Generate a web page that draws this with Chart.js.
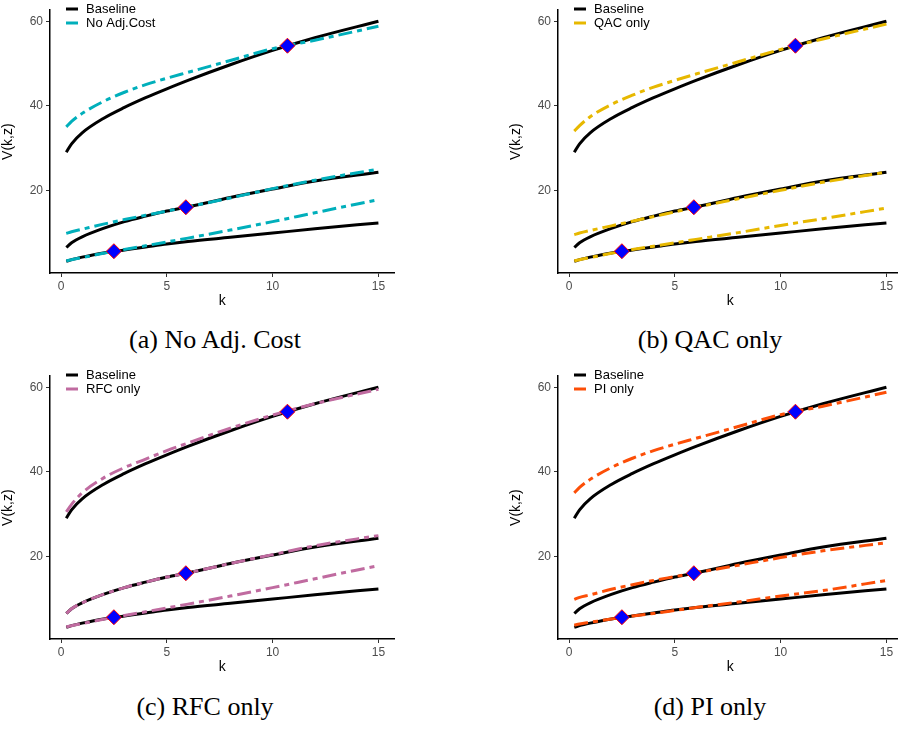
<!DOCTYPE html>
<html><head><meta charset="utf-8">
<script src="https://cdn.jsdelivr.net/npm/chart.js@4"></script>
<style>
body{margin:0;background:#fff;width:898px;height:729px;position:relative;overflow:hidden}
.p{position:absolute;width:403px;height:310px}
.cap{position:absolute;font-family:"Liberation Serif",serif;font-size:26px;color:#000;text-align:center;width:400px}
</style></head><body>
<div class="p" style="left:0;top:0"><canvas id="c0"></canvas></div>
<div class="p" style="left:508px;top:0"><canvas id="c1"></canvas></div>
<div class="p" style="left:0;top:366px"><canvas id="c2"></canvas></div>
<div class="p" style="left:508px;top:366px"><canvas id="c3"></canvas></div>
<div class="cap" style="left:15px;top:325px">(a) No Adj. Cost</div>
<div class="cap" style="left:510px;top:325px">(b) QAC only</div>
<div class="cap" style="left:5px;top:692px">(c) RFC only</div>
<div class="cap" style="left:510px;top:692px">(d) PI only</div>
<script>
const k = [0.25,0.5,1,2,3,4,5,6,8,10,12,15];
const baseTop = [29,31,33.6,37,39.6,41.9,44.0,46.0,49.7,53.1,56.1,60];
const baseMid = [6.5,7.6,9,11,12.6,13.9,15.1,16.1,18.3,20.3,22.2,24.3];
const baseLow = [3.2,3.6,4.2,5.2,5.9,6.6,7.3,7.9,8.9,9.9,10.9,12.3];
const noAdjTop = [35,36.3,38.2,41,43.2,45,46.5,47.9,50.7,53.5,55.5,58.8];
const noAdjMid = [9.8,10.2,10.8,12.0,13.1,14.1,15.1,16.1,18.2,20.4,22.4,25];
const noAdjLow = [3.3,3.6,4.1,5.1,6.0,6.9,7.8,8.7,10.6,12.6,14.7,17.8];
const qacTop = [34,35.3,37.4,40.3,42.5,44.4,46,47.5,50.4,53.3,55.8,59.3];
const qacMid = [9.5,9.9,10.5,11.6,12.7,13.8,14.9,16,18,20,21.9,24.3];
const qacLow = [3.3,3.6,4.1,5.1,6.0,6.8,7.6,8.4,10,11.7,13.3,15.8];
const rfcTop = [30.5,32.3,35,38.5,41,43,45,46.8,50.3,53.4,56.1,59.5];
const rfcMid = [6.5,7.6,9,11,12.6,13.9,15.1,16.1,18.3,20.4,22.5,24.9];
const rfcLow = [3.3,3.6,4.1,5.1,6.0,6.9,7.8,8.7,10.6,12.6,14.7,17.8];
const piTop = [35,36.3,38.2,41,43.2,45,46.5,47.9,50.7,53.5,55.5,58.8];
const piMid = [9.8,10.3,10.9,12.2,13.3,14.3,15.2,16.1,17.9,19.7,21.3,23.2];
const piLow = [3.7,4.0,4.4,5.2,5.9,6.5,7.2,7.9,9.2,10.6,11.9,14.3];
const steadyK = [2.5,5.9,10.7];
const steadyV = [5.6,16,54.2];
const xTicks = [0,5,10,15];
const yTicks = [20,40,60];

const panels = [
  {id:'c0', name:'No Adj.Cost', color:'#00AFBB', s:[noAdjTop,noAdjMid,noAdjLow]},
  {id:'c1', name:'QAC only', color:'#E7B800', s:[qacTop,qacMid,qacLow]},
  {id:'c2', name:'RFC only', color:'#C06BA0', s:[rfcTop,rfcMid,rfcLow]},
  {id:'c3', name:'PI only', color:'#FC4E07', s:[piTop,piMid,piLow]}
];
const pts = arr => k.map((x,i)=>({x, y:arr[i]}));
const font = {family:'"Liberation Sans", Arial, sans-serif', size:12};

panels.forEach(p=>{
  const ds = [];
  ds.push({type:'scatter', data:steadyK.map((x,i)=>({x,y:steadyV[i]})), pointStyle:'rectRot', pointRadius:7.5,
    backgroundColor:'#0000FF', borderColor:'#FF0000', borderWidth:1, order:0});
  p.s.forEach(a=>ds.push({data:pts(a), borderColor:p.color, borderWidth:3, borderDash:[14,5,5,5], pointRadius:0, cubicInterpolationMode:'monotone', fill:false, order:1}));
  [baseTop,baseMid,baseLow].forEach(a=>ds.push({data:pts(a), borderColor:'#000', borderWidth:3, pointRadius:0, cubicInterpolationMode:'monotone', fill:false, order:2}));
  const legendPlugin = {id:'lg', afterDraw(c){
    const ctx=c.ctx, x0=c.chartArea.left+16, y0=9;
    ctx.save(); ctx.lineWidth=3; ctx.font='13px "Liberation Sans", Arial, sans-serif'; ctx.textBaseline='middle';
    ctx.strokeStyle='#000'; ctx.beginPath(); ctx.moveTo(x0,y0); ctx.lineTo(x0+12,y0); ctx.stroke();
    ctx.strokeStyle=p.color; ctx.beginPath(); ctx.moveTo(x0,y0+14); ctx.lineTo(x0+12,y0+14); ctx.stroke();
    ctx.fillStyle='#000'; ctx.fillText('Baseline', x0+20, y0); ctx.fillText(p.name, x0+20, y0+14);
    ctx.restore();
  }};
  new Chart(document.getElementById(p.id), {
    type:'line',
    data:{datasets:ds},
    options:{responsive:true, maintainAspectRatio:false, animation:false,
      layout:{padding:{left:0,right:0,top:0,bottom:0}},
      plugins:{legend:{display:false}, tooltip:{enabled:false}},
      scales:{
        x:{type:'linear', min:-0.52, max:15.76,
          afterBuildTicks:s=>{s.ticks=xTicks.map(v=>({value:v}));},
          afterFit:s=>{s.height=37;},
          grid:{display:true, drawOnChartArea:false, tickLength:4, color:'#333'},
          border:{display:true, color:'#000', width:1.5},
          ticks:{color:'#4d4d4d', font, padding:2, maxRotation:0},
          title:{display:true, text:'k', color:'#000', font:{family:font.family,size:14}, padding:{top:0,bottom:0}}},
        y:{type:'linear', min:0.45, max:62.6,
          afterBuildTicks:s=>{s.ticks=yTicks.map(v=>({value:v}));},
          afterFit:s=>{s.width=50;},
          grid:{display:true, drawOnChartArea:false, tickLength:4, color:'#333'},
          border:{display:true, color:'#000', width:1.5},
          ticks:{color:'#4d4d4d', font, padding:3},
          title:{display:true, text:'V(k,z)', color:'#000', font:{family:font.family,size:14}, padding:{top:0,bottom:4}}}
      }},
    plugins:[legendPlugin]
  });
});
</script></body></html>
